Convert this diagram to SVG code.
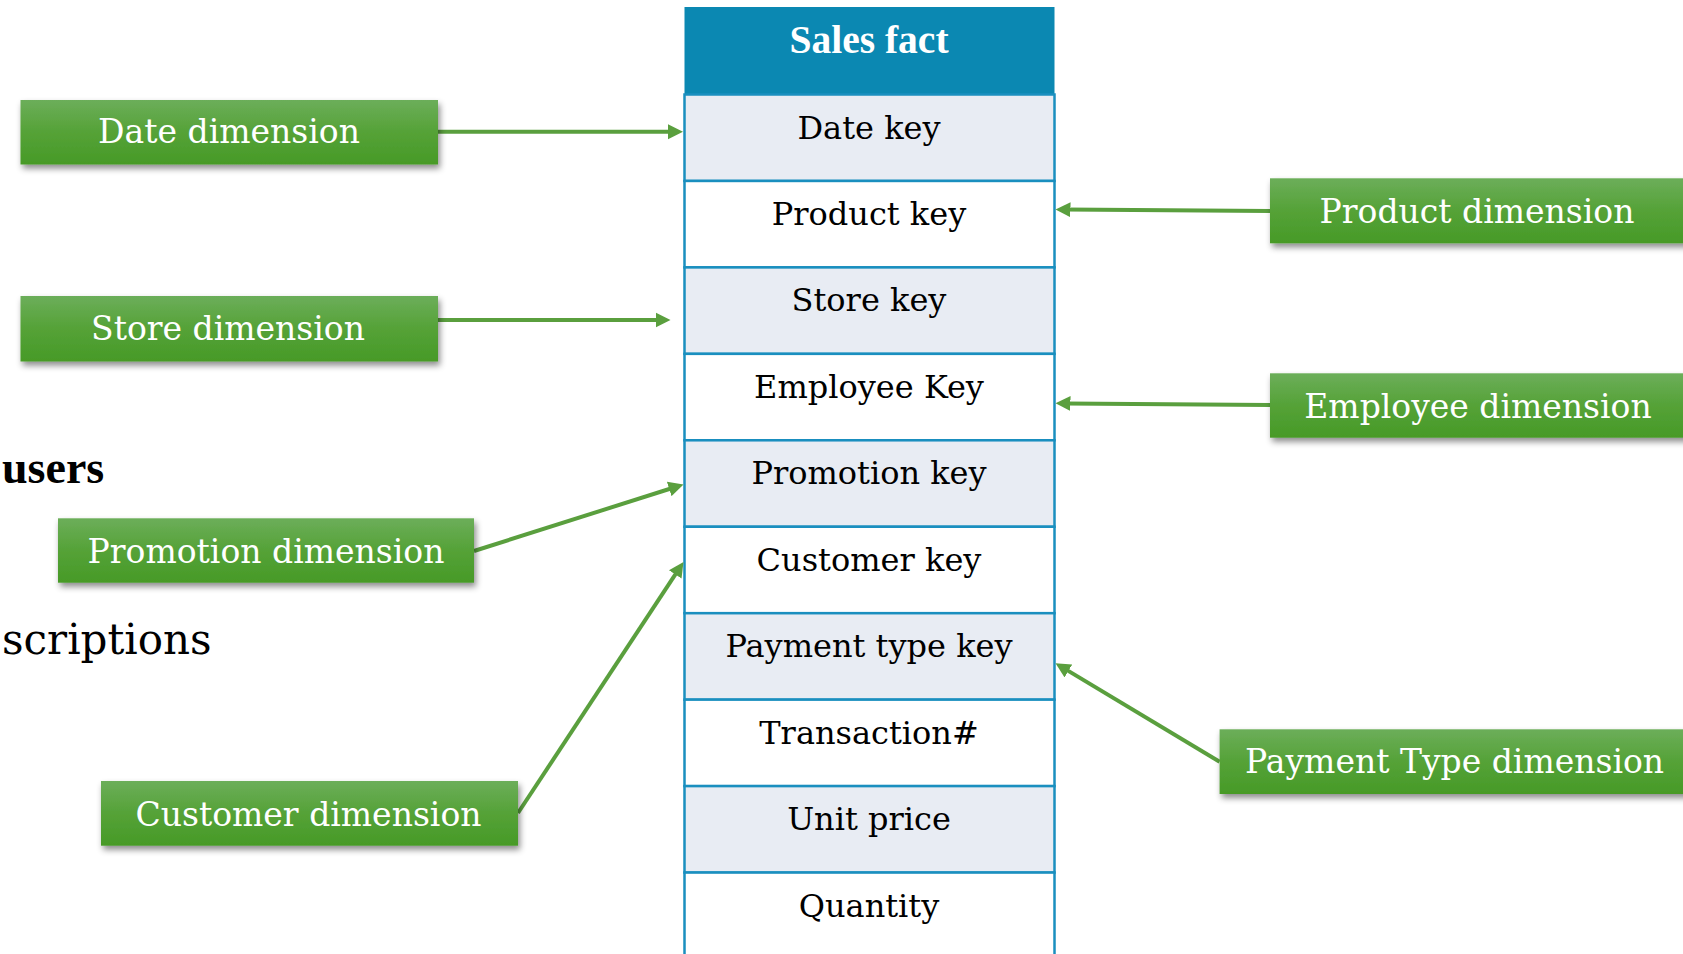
<svg xmlns="http://www.w3.org/2000/svg" width="1683" height="954" viewBox="0 0 1683 954">
<style>
.lbl{font-family:"DejaVu Serif","Liberation Serif",serif;font-size:33px;fill:#ffffff;text-anchor:middle}
.row{font-family:"DejaVu Serif","Liberation Serif",serif;font-size:32px;fill:#000000;text-anchor:middle}
.box{fill:url(#g);filter:url(#sh)}
.conn{stroke:#5a9f3e;stroke-width:4;fill:none;marker-end:url(#ah)}
.cell{stroke:#1a8fbf;stroke-width:2.5}
.alt{fill:#e8ecf3}
.wht{fill:#ffffff}
.bg{font-family:"DejaVu Serif","Liberation Serif",serif;fill:#000000}
</style>
<defs>
<linearGradient id="g" x1="0" y1="0" x2="0" y2="1">
<stop offset="0" stop-color="#6cae5a"/>
<stop offset="0.5" stop-color="#55a237"/>
<stop offset="1" stop-color="#479a27"/>
</linearGradient>
<filter id="sh" x="-10%" y="-20%" width="125%" height="160%">
<feDropShadow dx="2" dy="4" stdDeviation="3" flood-color="#000000" flood-opacity="0.45"/>
</filter>
<marker id="ah" markerUnits="userSpaceOnUse" markerWidth="16" markerHeight="16" viewBox="0 -8 16 16" refX="5" refY="0" orient="auto">
<path d="M0,-7.5 L15,0 L0,7.5 z" fill="#5a9f3e"/>
</marker>
</defs>
<rect width="1683" height="954" fill="#ffffff"/>

<text class="bg" x="2" y="483" style="font-family:'Liberation Serif',serif;font-weight:bold;font-size:46px">users</text>
<text class="bg" x="2" y="654" style="font-size:42px">scriptions</text>

<g id="sales-fact">
<rect x="684.5" y="7" width="370" height="88" fill="#0b88b2"/>
<text x="869" y="53" text-anchor="middle" style="font-family:'Liberation Serif',serif;font-weight:bold;font-size:39.5px;fill:#ffffff">Sales fact</text>
<rect class="cell alt" x="684.5" y="94.5" width="370" height="86.45"/>
<rect class="cell wht" x="684.5" y="180.95" width="370" height="86.45"/>
<rect class="cell alt" x="684.5" y="267.4" width="370" height="86.45"/>
<rect class="cell wht" x="684.5" y="353.85" width="370" height="86.45"/>
<rect class="cell alt" x="684.5" y="440.3" width="370" height="86.45"/>
<rect class="cell wht" x="684.5" y="526.75" width="370" height="86.45"/>
<rect class="cell alt" x="684.5" y="613.2" width="370" height="86.45"/>
<rect class="cell wht" x="684.5" y="699.65" width="370" height="86.45"/>
<rect class="cell alt" x="684.5" y="786.1" width="370" height="86.45"/>
<rect class="cell wht" x="684.5" y="872.55" width="370" height="100"/>
<text class="row" x="869" y="138.5">Date key</text>
<text class="row" x="869" y="225">Product key</text>
<text class="row" x="869" y="311.4">Store key</text>
<text class="row" x="869" y="397.9">Employee Key</text>
<text class="row" x="869" y="484.3">Promotion key</text>
<text class="row" x="869" y="570.8">Customer key</text>
<text class="row" x="869" y="657.2">Payment type key</text>
<text class="row" x="869" y="743.7">Transaction#</text>
<text class="row" x="869" y="830.1">Unit price</text>
<text class="row" x="869" y="916.6">Quantity</text>
</g>

<g id="connectors">
<path class="conn" d="M438,131.7 L673,131.7"/>
<path class="conn" d="M1270,211 L1065.5,209.6"/>
<path class="conn" d="M438,320 L660.5,320"/>
<path class="conn" d="M1270,405 L1065.5,403.4"/>
<path class="conn" d="M474,551 L674,487.5"/>
<path class="conn" d="M518,813 L678,570.3"/>
<path class="conn" d="M1219.6,761.7 L1064.1,668.4"/>
</g>

<g id="date-dimension">
<rect class="box" x="20.5" y="100" width="417.5" height="64.5"/>
<text class="lbl" x="229" y="143">Date dimension</text>
</g>
<g id="store-dimension">
<rect class="box" x="20.5" y="296" width="417.5" height="65.5"/>
<text class="lbl" x="228" y="340">Store dimension</text>
</g>
<g id="product-dimension">
<rect class="box" x="1270" y="178.3" width="430" height="65"/>
<text class="lbl" x="1477" y="222.7">Product dimension</text>
</g>
<g id="employee-dimension">
<rect class="box" x="1270" y="373.3" width="430" height="64.4"/>
<text class="lbl" x="1478" y="417.7">Employee dimension</text>
</g>
<g id="promotion-dimension">
<rect class="box" x="58" y="518.3" width="416" height="64.4"/>
<text class="lbl" x="266" y="562.7">Promotion dimension</text>
</g>
<g id="customer-dimension">
<rect class="box" x="101" y="781" width="417" height="64.7"/>
<text class="lbl" x="308.5" y="825.7">Customer dimension</text>
</g>
<g id="payment-type-dimension">
<rect class="box" x="1219.6" y="729.3" width="480" height="64.7"/>
<text class="lbl" x="1454.6" y="773.3">Payment Type dimension</text>
</g>
</svg>
